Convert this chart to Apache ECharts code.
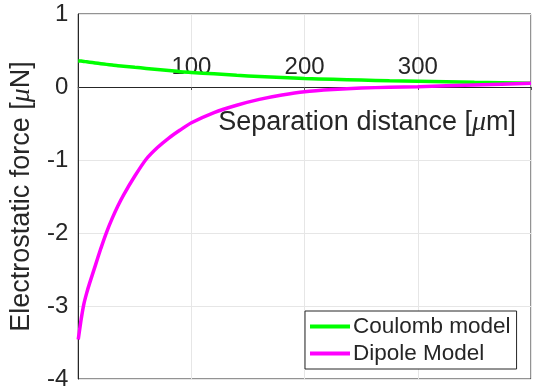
<!DOCTYPE html>
<html>
<head>
<meta charset="utf-8">
<script src="https://cdn.jsdelivr.net/npm/echarts@6/dist/echarts.min.js"></script>
<style>
html,body{margin:0;padding:0;background:#fff;}
#chart{width:534px;height:392px;}
</style>
</head>
<body>
<div id="chart"></div>
<script>
var separation = [0,2.5,5,7.5,10,15,20,25,30,35,40,50,60,70,80,90,100,120,140,160,180,200,225,250,275,300,350,400];
var coulomb = [0.36,0.355,0.35,0.345,0.34,0.33,0.32,0.31,0.30,0.29,0.285,0.27,0.255,0.24,0.225,0.21,0.20,0.18,0.16,0.145,0.13,0.115,0.105,0.095,0.085,0.078,0.064,0.052];
var dipole = [-3.46,-3.19,-2.97,-2.82,-2.69,-2.45,-2.21,-1.99,-1.80,-1.63,-1.48,-1.22,-0.99,-0.83,-0.70,-0.59,-0.49,-0.35,-0.25,-0.17,-0.11,-0.065,-0.035,-0.015,-0.003,0.005,0.028,0.05];
var xTicksShown = [100,200,300];
var yTicks = [1,0,-1,-2,-3,-4];
var seriesNames = ['Coulomb model','Dipole Model'];

function pairs(ys){ return separation.map(function(x,i){ return [x, ys[i]]; }); }

var FONT = '"Liberation Sans", Arial, Helvetica, sans-serif';
var TXT = '#262626';
var MU = {fontFamily:'"Liberation Serif", serif', fontStyle:'italic', fontSize:28, color:TXT};
var chart = echarts.init(document.getElementById('chart'), null, {renderer:'canvas'});
chart.setOption({
  animation:false,
  backgroundColor:'#ffffff',
  textStyle:{fontFamily:FONT},
  grid:{left:75, top:14, right:-2, bottom:13, show:true, borderColor:TXT, borderWidth:1, backgroundColor:'#ffffff', containLabel:false},
  legend:{
    orient:'vertical', left:305, top:311,
    backgroundColor:'#ffffff', borderColor:TXT, borderWidth:1, borderRadius:0,
    padding:[4,6,4,5], itemGap:4,
    itemWidth:40, itemHeight:4, icon:'rect',
    textStyle:{fontFamily:FONT, fontSize:22.5, color:TXT, padding:[0,0,0,-2]},
    data:seriesNames
  },
  xAxis:{
    type:'value', min:0, max:400, interval:100,
    position:'bottom', offset:-292,
    axisLine:{show:true, onZero:false, lineStyle:{color:TXT, width:1}},
    axisTick:{show:true, inside:false, length:3, lineStyle:{color:'#555'}},
    axisLabel:{inside:true, margin:8, fontFamily:FONT, fontSize:24, color:TXT,
      formatter:function(v){ return xTicksShown.indexOf(v) >= 0 ? String(v) : ''; }},
    splitLine:{show:true, lineStyle:{color:'#e6e6e6', width:1}},
    name:'Separation distance [{mu|μ}m]',
    nameLocation:'end', nameGap:-15,
    nameTextStyle:{fontFamily:FONT, fontSize:27, color:TXT, align:'right', verticalAlign:'top', padding:[22,0,0,0],
      rich:{mu:MU}}
  },
  yAxis:{
    type:'value', min:-4, max:1, interval:1,
    axisLine:{show:true, onZero:false, lineStyle:{color:TXT, width:1}},
    axisTick:{show:false},
    axisLabel:{margin:10, fontFamily:FONT, fontSize:24, color:TXT,
      formatter:function(v){ return yTicks.indexOf(v) >= 0 ? String(v) : ''; }},
    splitLine:{show:true, lineStyle:{color:'#e6e6e6', width:1}},
    name:'Electrostatic force [{mu|μ}N]',
    nameLocation:'middle', nameGap:38,
    nameTextStyle:{fontFamily:FONT, fontSize:27, color:TXT, rich:{mu:MU}}
  },
  series:[
    {name:seriesNames[0], type:'line', data:pairs(coulomb), showSymbol:false, smooth:0.2,
     lineStyle:{color:'#00ff00', width:3.5}, itemStyle:{color:'#00ff00'}, z:3},
    {name:seriesNames[1], type:'line', data:pairs(dipole), showSymbol:false, smooth:0.2,
     lineStyle:{color:'#ff00ff', width:3.5}, itemStyle:{color:'#ff00ff'}, z:4}
  ]
});
</script>
</body>
</html>
